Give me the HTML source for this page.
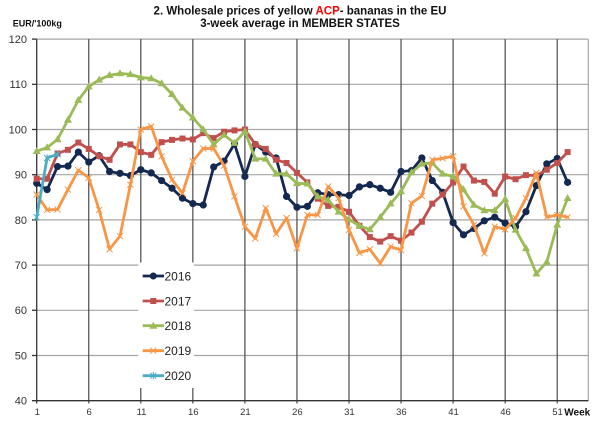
<!DOCTYPE html>
<html><head><meta charset="utf-8">
<style>
html,body{margin:0;padding:0;background:#fff;}
svg{display:block;font-family:"Liberation Sans",Arial,sans-serif;}
</style></head>
<body>
<svg id="chart" width="600" height="426" viewBox="0 0 600 426" xmlns="http://www.w3.org/2000/svg">
<rect width="600" height="426" fill="#fff"/>
<!-- title -->
<text x="300" y="14.3" text-anchor="middle" font-size="11.5" font-weight="bold" fill="#111">2. Wholesale prices of yellow <tspan fill="#ff0000">ACP</tspan>- bananas in the EU</text>
<text x="300" y="26.8" text-anchor="middle" font-size="11.5" font-weight="bold" fill="#111">3-week average in MEMBER STATES</text>
<text x="12.7" y="26.7" font-size="9" font-weight="bold" fill="#111">EUR/'100kg</text>

<!-- horizontal gridlines -->
<g stroke="#a6a6a6" stroke-width="1.2">
<line x1="36.7" y1="39.1" x2="588.3" y2="39.1"/>
<line x1="36.7" y1="84.3" x2="588.3" y2="84.3"/>
<line x1="36.7" y1="129.5" x2="588.3" y2="129.5"/>
<line x1="36.7" y1="174.7" x2="588.3" y2="174.7"/>
<line x1="36.7" y1="219.9" x2="588.3" y2="219.9"/>
<line x1="36.7" y1="265.1" x2="588.3" y2="265.1"/>
<line x1="36.7" y1="310.3" x2="588.3" y2="310.3"/>
<line x1="36.7" y1="355.5" x2="588.3" y2="355.5"/>
<line x1="588.3" y1="39.1" x2="588.3" y2="400.7"/>
</g>
<!-- vertical gridlines -->
<g stroke="#4a4a4a" stroke-width="1.2">
<line x1="88.75" y1="39.1" x2="88.75" y2="403.5"/>
<line x1="140.8" y1="39.1" x2="140.8" y2="403.5"/>
<line x1="192.85" y1="39.1" x2="192.85" y2="403.5"/>
<line x1="244.9" y1="39.1" x2="244.9" y2="403.5"/>
<line x1="296.95" y1="39.1" x2="296.95" y2="403.5"/>
<line x1="349" y1="39.1" x2="349" y2="403.5"/>
<line x1="401.05" y1="39.1" x2="401.05" y2="403.5"/>
<line x1="453.1" y1="39.1" x2="453.1" y2="403.5"/>
<line x1="505.15" y1="39.1" x2="505.15" y2="403.5"/>
<line x1="557.2" y1="39.1" x2="557.2" y2="403.5"/>
</g>
<!-- axes -->
<g stroke="#333" stroke-width="1.3">
<line x1="36.7" y1="39.1" x2="36.7" y2="403.5"/>
<line x1="32" y1="400.7" x2="588.3" y2="400.7"/>
<line x1="32" y1="39.1" x2="36.7" y2="39.1"/>
<line x1="32" y1="84.3" x2="36.7" y2="84.3"/>
<line x1="32" y1="129.5" x2="36.7" y2="129.5"/>
<line x1="32" y1="174.7" x2="36.7" y2="174.7"/>
<line x1="32" y1="219.9" x2="36.7" y2="219.9"/>
<line x1="32" y1="265.1" x2="36.7" y2="265.1"/>
<line x1="32" y1="310.3" x2="36.7" y2="310.3"/>
<line x1="32" y1="355.5" x2="36.7" y2="355.5"/>
</g>
<!-- y labels -->
<g font-size="11" fill="#333" text-anchor="end">
<text x="27" y="43">120</text>
<text x="27" y="88.2">110</text>
<text x="27" y="133.4">100</text>
<text x="27" y="178.6">90</text>
<text x="27" y="223.8">80</text>
<text x="27" y="269">70</text>
<text x="27" y="314.2">60</text>
<text x="27" y="359.4">50</text>
<text x="27" y="404.6">40</text>
</g>
<!-- x labels -->
<g font-size="9.5" fill="#333" text-anchor="middle">
<text x="37.3" y="415">1</text>
<text x="89.2" y="415">6</text>
<text x="141.5" y="415">11</text>
<text x="193.3" y="415">16</text>
<text x="245.4" y="415">21</text>
<text x="297.4" y="415">26</text>
<text x="349.4" y="415">31</text>
<text x="401.4" y="415">36</text>
<text x="453.5" y="415">41</text>
<text x="505.5" y="415">46</text>
<text x="557.5" y="415">51</text>
</g>
<text x="564.3" y="415.5" font-size="10" font-weight="bold" fill="#111">Week</text>

<!-- legend background -->
<rect x="138.3" y="262.5" width="55.7" height="125.5" fill="#fff"/>

<g id="series"></g>

<!-- legend -->
<g font-size="12" fill="#222">
<line x1="142.7" y1="276" x2="164" y2="276" stroke="#142850" stroke-width="2.8"/>
<circle cx="153.3" cy="276" r="3.5" fill="#142850"/>
<text x="164.5" y="280.3">2016</text>
<line x1="142.7" y1="301" x2="164" y2="301" stroke="#c0504d" stroke-width="2.8"/>
<rect x="150.3" y="298" width="6" height="6" fill="#c0504d"/>
<text x="164.5" y="305.3">2017</text>
<line x1="142.7" y1="325.7" x2="164" y2="325.7" stroke="#9bbb59" stroke-width="2.8"/>
<polygon points="153.3,321.7 157.3,328.7 149.3,328.7" fill="#9bbb59"/>
<text x="164.5" y="330">2018</text>
<line x1="142.7" y1="350.7" x2="164" y2="350.7" stroke="#f79646" stroke-width="2.8"/>
<path d="M150.3,347.7 L156.3,353.7 M156.3,347.7 L150.3,353.7" stroke="#f79646" stroke-width="1"/>
<text x="164.5" y="355">2019</text>
<line x1="142.7" y1="375.7" x2="164" y2="375.7" stroke="#4bacc6" stroke-width="2.8"/>
<path d="M150.3,372.7 L156.3,378.7 M156.3,372.7 L150.3,378.7 M153.3,372 L153.3,379.4" stroke="#4bacc6" stroke-width="1"/>
<text x="164.5" y="380">2020</text>
</g>
</svg>
<script>
(function(){
var NS="http://www.w3.org/2000/svg";
function X(w){return 36.7+(w-1)*10.41;}
function Y(v){return 400.7-(v-40)*4.52;}
var S=[
{c:"#142850",m:"c",d:[88.1,86.7,91.8,91.9,95.0,92.8,94.2,90.7,90.3,89.8,91.1,90.4,88.7,87.0,84.8,83.6,83.3,91.7,93.0,96.8,89.6,96.7,95.0,93.7,85.2,82.8,83.0,86.0,85.6,85.6,85.4,87.3,87.8,87.0,86.1,90.7,90.9,93.7,88.7,86.1,79.4,76.7,78.1,79.8,80.6,79.3,78.5,81.8,87.6,92.4,93.6,88.3]},
{c:"#c0504d",m:"s",d:[89.1,89.1,94.7,95.5,97.1,95.7,94.1,93.3,96.7,96.7,95.0,94.4,97.2,97.7,98.0,97.8,99.2,98.1,99.5,99.8,100.0,96.7,95.7,93.3,92.6,90.4,88.3,84.7,83.1,82.9,81.8,78.7,76.2,75.2,76.4,75.4,77.2,79.6,83.6,85.6,88.3,91.8,88.7,88.4,85.8,89.6,89.0,89.9,89.8,91.1,92.6,95.0]},
{c:"#9bbb59",m:"t",d:[95.2,96.0,97.8,102.1,106.5,109.5,111.0,112.0,112.4,112.2,111.5,111.3,110.2,107.8,104.8,102.6,100.0,96.7,98.8,97.0,99.6,93.5,93.5,90.2,90.2,88.1,88.0,85.2,84.4,81.8,80.1,78.7,77.9,80.6,83.6,86.3,90.5,92.4,92.6,90.2,89.6,86.7,83.3,82.1,82.1,84.6,77.8,73.7,68.1,70.7,78.9,84.8]},
{c:"#f79646",m:"x",d:[85.6,82.2,82.3,86.7,91.0,89.3,82.2,73.5,76.4,87.8,100.0,100.7,94.1,88.9,85.9,93.0,95.8,95.8,92.0,85.2,78.5,75.9,82.6,76.9,80.4,73.7,81.1,81.1,87.4,84.8,77.8,72.7,73.5,70.4,74.1,73.3,83.7,85.3,93.3,93.6,94.1,83.0,78.9,72.6,78.5,77.9,80.4,84.8,90.4,80.6,81.1,80.6]},
{c:"#4bacc6",m:"a",d:[80.6,93.7,94.5]}
];
var g=document.getElementById("series");
function el(n,a){var e=document.createElementNS(NS,n);for(var k in a)e.setAttribute(k,a[k]);g.appendChild(e);return e;}
S.forEach(function(s){
 var pts=s.d.map(function(v,i){return X(i+1).toFixed(2)+","+Y(v).toFixed(2);}).join(" ");
 el("polyline",{points:pts,fill:"none",stroke:s.c,"stroke-width":"2.8","stroke-linejoin":"round","stroke-linecap":"round"});
 s.d.forEach(function(v,i){
  var x=X(i+1),y=Y(v);
  if(s.m=="c")el("circle",{cx:x,cy:y,r:3.6,fill:s.c});
  else if(s.m=="s")el("rect",{x:x-3,y:y-3,width:6,height:6,fill:s.c});
  else if(s.m=="t")el("polygon",{points:x+","+(y-4.2)+" "+(x+4)+","+(y+2.8)+" "+(x-4)+","+(y+2.8),fill:s.c});
  else if(s.m=="x")el("path",{d:"M"+(x-3)+","+(y-3)+"L"+(x+3)+","+(y+3)+"M"+(x+3)+","+(y-3)+"L"+(x-3)+","+(y+3),stroke:s.c,"stroke-width":"1"});
  else el("path",{d:"M"+(x-3)+","+(y-3)+"L"+(x+3)+","+(y+3)+"M"+(x+3)+","+(y-3)+"L"+(x-3)+","+(y+3)+"M"+x+","+(y-3.7)+"L"+x+","+(y+3.7),stroke:s.c,"stroke-width":"1"});
 });
});
})();
</script>
</body></html>
